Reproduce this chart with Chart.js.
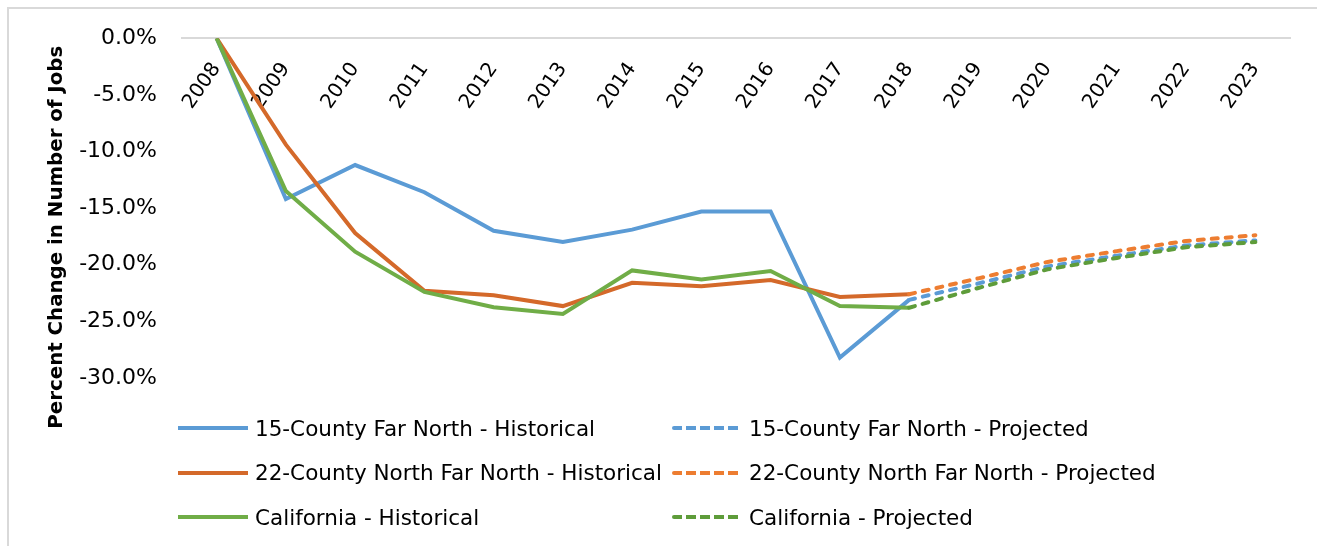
<!DOCTYPE html>
<html>
<head>
<meta charset="utf-8">
<script src="https://cdn.jsdelivr.net/npm/chart.js@4.4.1/dist/chart.umd.min.js"></script>
<style>
  html, body { margin: 0; padding: 0; background: #fff; }
  #wrap { position: relative; width: 1317px; height: 546px; overflow: hidden; }
  #frame { position: absolute; left: 7px; top: 7px; width: 1330px; height: 560px; border: 2px solid #d9d9d9; box-sizing: border-box; }
  #jobsChart { position: absolute; left: 0; top: 0; }
  #legend { position: absolute; left: 178px; top: 406px; display: grid; grid-template-columns: 494px auto; grid-auto-rows: 44.5px;
            font-family: "DejaVu Sans", sans-serif; font-size: 21.5px; color: #000; }
  .item { display: flex; align-items: center; white-space: nowrap; }
  .swatch { width: 70px; height: 4px; margin-right: 7px; border-radius: 2px; }
</style>
</head>
<body>
<div id="wrap">
  <div id="frame"></div>
  <canvas id="jobsChart" width="1317" height="546"></canvas>
  <div id="legend"></div>
</div>
<script>
const years = ['2008', '2009', '2010', '2011', '2012', '2013', '2014', '2015', '2016', '2017', '2018', '2019', '2020', '2021', '2022', '2023'];

// percent change in number of jobs since 2008
const farNorthHist = [0, -14.2, -11.2, -13.6, -17.0, -18.0, -16.9, -15.3, -15.3, -28.2, -23.1, null, null, null, null, null];
const farNorthProj = [null, null, null, null, null, null, null, null, null, null, -23.1, -21.65, -20.15, -19.2, -18.3, -17.85];
const northFarNorthHist = [0, -9.4, -17.2, -22.3, -22.7, -23.65, -21.6, -21.9, -21.35, -22.85, -22.6, null, null, null, null, null];
const northFarNorthProj = [null, null, null, null, null, null, null, null, null, null, -22.6, -21.2, -19.75, -18.8, -17.9, -17.4];
const californiaHist = [0, -13.5, -18.85, -22.4, -23.75, -24.35, -20.5, -21.3, -20.55, -23.65, -23.8, null, null, null, null, null];
const californiaProj = [null, null, null, null, null, null, null, null, null, null, -23.8, -22.05, -20.4, -19.4, -18.45, -18.0];

const yTicks = [0, -5, -10, -15, -20, -25, -30];

const blue = '#5b9bd5';
const orangeHist = '#d4692a';
const orangeProj = '#ed7d31';
const greenHist = '#70ad47';
const greenProj = '#5e9c3a';

function line(label, data, color, dashed, order) {
  return {
    label: label,
    data: data,
    borderColor: color,
    backgroundColor: color,
    borderWidth: 4,
    borderDash: dashed ? [6, 8] : [],
    borderCapStyle: dashed ? 'round' : 'butt',
    pointRadius: 0,
    tension: 0,
    fill: false,
    spanGaps: false,
    order: order
  };
}

const yTitlePlugin = {
  id: 'yTitle',
  afterDraw(chart) {
    const ctx = chart.ctx;
    ctx.save();
    ctx.translate(57, chart.chartArea.top + 199);
    ctx.rotate(-Math.PI / 2);
    ctx.font = 'bold 19.8px "DejaVu Sans"';
    ctx.fillStyle = '#000';
    ctx.textAlign = 'center';
    ctx.textBaseline = 'middle';
    ctx.fillText('Percent Change in Number of Jobs', 0, 0);
    ctx.restore();
  }
};

const htmlLegend = {
  id: 'htmlLegend',
  afterUpdate(chart) {
    const box = document.getElementById('legend');
    box.innerHTML = '';
    chart.data.datasets.forEach(ds => {
      const item = document.createElement('div');
      item.className = 'item';
      const sw = document.createElement('span');
      sw.className = 'swatch';
      if (ds.borderDash.length) {
        sw.style.background = `repeating-linear-gradient(to right, ${ds.borderColor} 0 10px, transparent 10px 14px)`;
      } else {
        sw.style.background = ds.borderColor;
        sw.style.borderRadius = '0';
      }
      const txt = document.createElement('span');
      txt.textContent = ds.label;
      item.appendChild(sw);
      item.appendChild(txt);
      box.appendChild(item);
    });
  }
};

const ctx = document.getElementById('jobsChart').getContext('2d');
const chart = new Chart(ctx, {
  type: 'line',
  data: {
    labels: years,
    datasets: [
      line('15-County Far North - Historical', farNorthHist, blue, false, 6),
      line('15-County Far North - Projected', farNorthProj, blue, true, 5),
      line('22-County North Far North - Historical', northFarNorthHist, orangeHist, false, 4),
      line('22-County North Far North - Projected', northFarNorthProj, orangeProj, true, 3),
      line('California - Historical', californiaHist, greenHist, false, 2),
      line('California - Projected', californiaProj, greenProj, true, 1)
    ]
  },
  options: {
    responsive: false,
    animation: false,
    layout: { padding: { top: 37, right: 27, bottom: 168, left: 0 } },
    plugins: {
      legend: { display: false },
      tooltip: { enabled: false },
      title: { display: false }
    },
    scales: {
      x: {
        type: 'category',
        offset: true,
        position: { y: 0 },
        grid: { display: false, drawTicks: false },
        border: { display: true, color: '#d9d9d9', width: 2 },
        ticks: {
          autoSkip: false,
          minRotation: 55,
          maxRotation: 55,
          padding: 20,
          color: '#000',
          font: { family: '"DejaVu Sans"', size: 20 }
        },
        afterFit(scale) { scale.height = 2; }
      },
      y: {
        min: -30,
        max: 0,
        afterBuildTicks(scale) { scale.ticks = yTicks.map(v => ({ value: v })); },
        grid: { display: false, drawTicks: false },
        border: { display: false },
        ticks: {
          padding: 25,
          color: '#000',
          font: { family: '"DejaVu Sans"', size: 22 },
          callback: v => v.toFixed(1) + '%'
        },
        afterFit(scale) { scale.width = 182; }
      }
    }
  },
  plugins: [yTitlePlugin, htmlLegend]
});
</script>
</body>
</html>
